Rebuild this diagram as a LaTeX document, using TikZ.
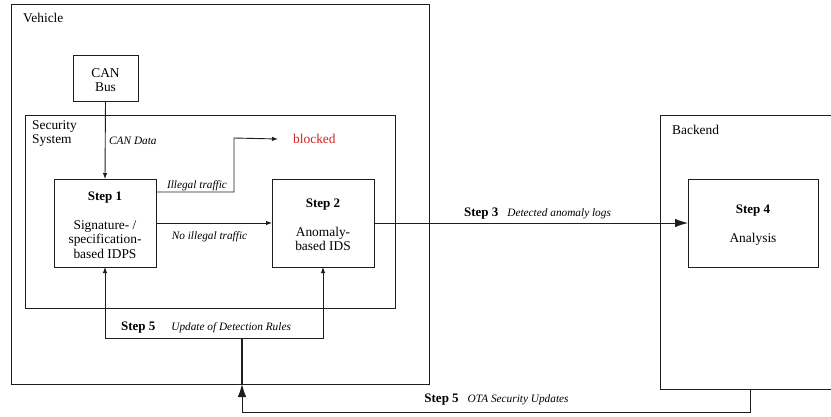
\documentclass[tikz,border=0pt]{standalone}
\usepackage{fontspec}
\setmainfont{Liberation Serif}
\usetikzlibrary{arrows.meta,calc}
\definecolor{ln}{RGB}{30,30,30}
\definecolor{blk}{RGB}{205,35,35}
\newcommand\stp[1]{{\fontsize{13pt}{14.5pt}\selectfont\bfseries\upshape #1}}
\begin{document}
\begin{tikzpicture}[x=1pt,y=-1pt,
  frame/.style={draw=ln,line width=0.9pt,inner sep=0pt,outer sep=0pt,anchor=north west},
  boxtext/.style={inner sep=0pt,align=center,font=\fontsize{13.4pt}{14.5pt}\selectfont},
  txt/.style={inner sep=0pt,font=\fontsize{13.4pt}{14.5pt}\selectfont},
  lab/.style={inner sep=0pt,font=\fontsize{11.3pt}{13pt}\selectfont\itshape},
  arr/.style={draw=ln,line width=0.9pt,-{Latex[length=6pt,width=4.5pt]}},
  bigarr/.style={draw=ln,line width=0.9pt,-{Latex[length=13pt,width=8.5pt]}},
  conn/.style={draw=ln,line width=0.9pt}]
\useasboundingbox (0,0) rectangle (831,416);
\clip (0,0) rectangle (831,416);
% containers
\node[frame,minimum width=418pt,minimum height=380pt] (vehicle) at (11,4) {};
\node[frame,minimum width=370pt,minimum height=193pt] (security) at (25,115) {};
\node[frame,minimum width=180pt,minimum height=274pt] (backend) at (660,115) {};
\node[txt,anchor=west] (vlab) at (23,18) {Vehicle};
\node[txt,anchor=west,align=left,font=\fontsize{13.4pt}{13.5pt}\selectfont] (slab) at (32,133.5) {Security\\System};
\node[txt,anchor=west] (blab) at (672,130) {Backend};
% boxes
\node[frame,minimum width=65pt,minimum height=46pt] (can) at (73,55) {};
\node[frame,minimum width=102pt,minimum height=88pt] (step1) at (54,179) {};
\node[frame,minimum width=102pt,minimum height=88pt] (step2) at (272,179) {};
\node[frame,minimum width=130pt,minimum height=88pt] (step4) at (688,179) {};
\node[boxtext] (cantext) at ($(can.center)+(0,2)$) {CAN\\Bus};
\node[boxtext] (s1text) at ($(step1.center)+(0,2)$)
  {\stp{Step 1}\\[14.5pt]Signature- /\\specification-\\based IDPS};
\node[boxtext] (s2text) at ($(step2.center)+(0,2)$)
  {\stp{Step 2}\\[14.5pt]Anomaly-\\based IDS};
\node[boxtext] (s4text) at ($(step4.center)+(0,2)$)
  {\stp{Step 4}\\[14.5pt]Analysis};
\node[txt,anchor=west,text=blk] (blocked) at (293,139) {blocked};
% labels
\node[lab,anchor=west] (candata) at (109,141) {CAN Data};
\node[lab] (illegal) at (197,186) {Illegal traffic};
\node[lab] (noillegal) at (209.5,237) {No illegal traffic};
\node[lab] (s3lab) at (537.5,214) {\stp{Step 3}\hspace{9pt}Detected anomaly logs};
\node[lab] (s5lab) at (206,328) {\stp{Step 5}\hspace{16pt}Update of Detection Rules};
\node[lab] (otalab) at (496.5,400) {\stp{Step 5}\hspace{9pt}OTA Security Updates};
% coordinates
\coordinate (bend) at (234,138);
\coordinate (junc) at (242,338);
\coordinate (ota) at (242,412);
% connectors
\draw[arr] (can.south) -- (step1.north);
\draw[arr] ($(step1.east)+(0,-31)$) -| (bend) -- ([xshift=-15pt]blocked.west);
\draw[arr] (step1.east) -- (step2.west);
\draw[bigarr] (step2.east) -- (step4.west);
\draw[arr] (junc) -| (step1.south);
\draw[arr] (junc) -| (step2.south);
\draw[bigarr] (backend.south) |- (ota) -- (ota |- vehicle.south);
\draw[conn,line width=1.3pt] (ota |- vehicle.south) -- (junc);
\end{tikzpicture}
\end{document}
